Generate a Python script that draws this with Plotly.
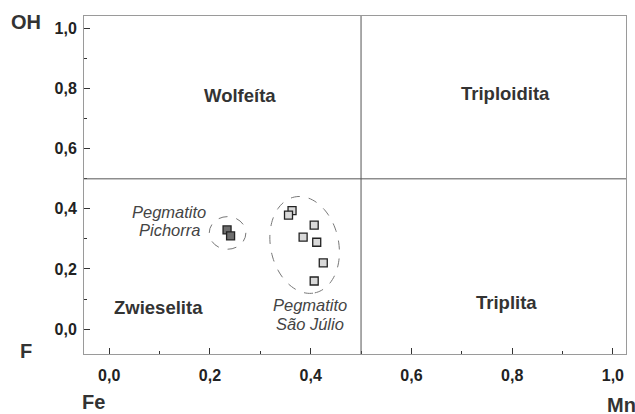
import numpy as np
import plotly.graph_objects as go

# ---- data ----
pichorra_fe_mn = [0.234, 0.241]
pichorra_oh_f = [0.330, 0.310]
sao_julio_fe_mn = [0.363, 0.356, 0.407, 0.385, 0.412, 0.425, 0.407]
sao_julio_oh_f = [0.394, 0.379, 0.346, 0.306, 0.289, 0.220, 0.160]

x_tick_vals = [0.0, 0.2, 0.4, 0.6, 0.8, 1.0]
y_tick_vals = [0.0, 0.2, 0.4, 0.6, 0.8, 1.0]
boundary = 0.5

region_names = ["Wolfeíta", "Triploidita", "Zwieselita", "Triplita"]
region_x = [0.260, 0.786, 0.098, 0.788]
region_y = [0.776, 0.783, 0.071, 0.088]

group_label_lines = [["Pegmatito", "Pichorra"], ["Pegmatito", "São Júlio"]]
group_label_x = [0.119, 0.399]
group_label_y = [[0.388, 0.329], [0.079, 0.016]]

# ---- layout geometry ----
W, H = 635, 414
ML, MR, MT, MB = 84, 9, 16, 60
XR = [-0.050, 1.026]
YR = [-0.083, 1.042]
xs = (W - ML - MR) / (XR[1] - XR[0])   # px per unit x
ys = (H - MT - MB) / (YR[1] - YR[0])   # px per unit y

FONT = "Liberation Sans, Arial, sans-serif"
TXT = "#333333"

fig = go.Figure()

# enclosing ellipses
# Pichorra (axis aligned)
pc_x, pc_y, pc_rx, pc_ry = 0.235, 0.320, 18.3, 16.3
fig.add_shape(type="circle", xref="x", yref="y",
              x0=pc_x - pc_rx / xs, x1=pc_x + pc_rx / xs,
              y0=pc_y - pc_ry / ys, y1=pc_y + pc_ry / ys,
              line=dict(color="#777777", width=1, dash="dash"), layer="below")

# São Júlio (tilted)
sj_cx, sj_cy, sj_a, sj_b, sj_tilt = 0.388, 0.280, 49.0, 34.0, np.radians(12)
t = np.linspace(0, 2 * np.pi, 121)
dx = sj_a * np.cos(t) * np.sin(sj_tilt) + sj_b * np.sin(t) * np.cos(sj_tilt)
dyd = sj_a * np.cos(t) * np.cos(sj_tilt) - sj_b * np.sin(t) * np.sin(sj_tilt)
ex = sj_cx + dx / xs
ey = sj_cy - dyd / ys
path = "M " + " L ".join(f"{a:.5f},{b:.5f}" for a, b in zip(ex, ey)) + " Z"
fig.add_shape(type="path", path=path, xref="x", yref="y",
              line=dict(color="#777777", width=1, dash="dash"), layer="below")

# quadrant lines
fig.add_shape(type="line", xref="x", yref="paper", x0=boundary, x1=boundary, y0=0, y1=1,
              line=dict(color="#555555", width=1))
fig.add_shape(type="line", xref="paper", yref="y", x0=0, x1=1, y0=boundary, y1=boundary,
              line=dict(color="#555555", width=1))

# data points
fig.add_trace(go.Scatter(x=sao_julio_fe_mn, y=sao_julio_oh_f, mode="markers",
                         marker=dict(symbol="square", size=8, color="#d9d9d9",
                                     line=dict(color="#222222", width=1.3)),
                         name="Pegmatito São Júlio", showlegend=False))
fig.add_trace(go.Scatter(x=pichorra_fe_mn, y=pichorra_oh_f, mode="markers",
                         marker=dict(symbol="square", size=8, color="#6e6e6e",
                                     line=dict(color="#222222", width=1.3)),
                         name="Pegmatito Pichorra", showlegend=False))

# region labels
for name, x, y in zip(region_names, region_x, region_y):
    fig.add_annotation(x=x, y=y, xref="x", yref="y", text=f"<b>{name}</b>", showarrow=False,
                       font=dict(family=FONT, size=18.5, color=TXT))

# group labels
for lines, x, ys_ in zip(group_label_lines, group_label_x, group_label_y):
    for line, y in zip(lines, ys_):
        fig.add_annotation(x=x, y=y, xref="x", yref="y", text=f"<i>{line}</i>", showarrow=False,
                           font=dict(family=FONT, size=16.5, color="#444444"))

# axis end labels (paper coords)
def pap(px, py):
    return (px - ML) / (W - ML - MR), (H - MB - py) / (H - MT - MB)

for txt, px, py, anchor in [("OH", 26, 22, "center"), ("F", 26, 351, "center"),
                            ("Fe", 93, 402, "center"), ("Mn", 605, 405, "left")]:
    ax_, ay_ = pap(px, py)
    fig.add_annotation(x=ax_, y=ay_, xref="paper", yref="paper", text=f"<b>{txt}</b>",
                       showarrow=False, xanchor=anchor, yanchor="middle",
                       font=dict(family=FONT, size=20, color=TXT))

axis_common = dict(showgrid=False, zeroline=False, showline=True, mirror=True,
                   linecolor="#9a9a9a", linewidth=1,
                   ticks="inside", ticklen=6, tickwidth=1.2, tickcolor="#333333",
                   tickformat=".1f",
                   tickfont=dict(family=FONT, size=16, color="#222222", weight="bold"),
                   minor=dict(ticks="inside", ticklen=3, tickwidth=1.2, tickcolor="#333333", dtick=0.1,
                              showgrid=False))

fig.update_xaxes(range=XR, tickvals=x_tick_vals, ticklabelstandoff=7, **axis_common)
fig.update_yaxes(range=YR, tickvals=y_tick_vals, ticklabelstandoff=3, **axis_common)

fig.update_layout(width=W, height=H, margin=dict(l=ML, r=MR, t=MT, b=MB),
                  paper_bgcolor="white", plot_bgcolor="white",
                  separators=",.", showlegend=False)

fig.write_html("out.html", config={"displayModeBar": False},
               post_script="document.body.style.margin='0';document.body.style.overflow='hidden';")
